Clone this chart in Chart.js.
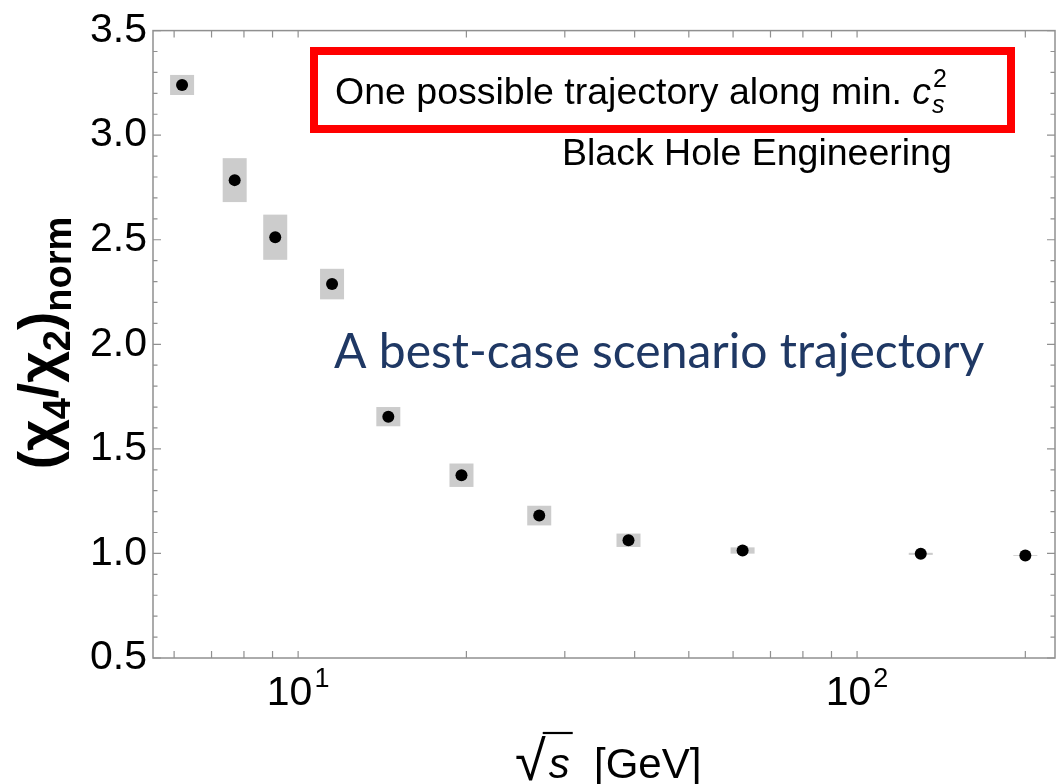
<!DOCTYPE html>
<html>
<head>
<meta charset="utf-8">
<script src="https://cdn.jsdelivr.net/npm/chart.js@4.4.0/dist/chart.umd.min.js"></script>
<style>
  html, body { margin: 0; padding: 0; background: #fff; }
</style>
</head>
<body>
<canvas id="myChart" width="1063" height="784"></canvas>
<script>

// collision energies sqrt(s) [GeV]
var energies = [6.2, 7.7, 9.1, 11.5, 14.5, 19.6, 27, 39, 62.4, 130, 200];
// (chi4/chi2)_norm and its uncertainty (grey boxes)
var ratios = [3.24, 2.785, 2.512, 2.288, 1.654, 1.374, 1.181, 1.063, 1.014, 0.998, 0.990];
var ratioErrors = [0.048, 0.105, 0.108, 0.073, 0.046, 0.056, 0.047, 0.032, 0.015, 0.005, 0.002];

var yTicks = [0.5, 1.0, 1.5, 2.0, 2.5, 3.0, 3.5];
var xTicks = [10, 100];
var xTickExponents = ["1", "2"];
var xMinorTicks = [6, 7, 8, 9, 20, 30, 40, 50, 60, 70, 80, 90, 200];

var FONT = "'Liberation Sans', Arial, Helvetica, sans-serif";


// grey uncertainty boxes behind the points
var errorBoxes = {
    id: 'errorBoxes',
    beforeDatasetsDraw: function (chart) {
        var ctx = chart.ctx, xs = chart.scales.x, ys = chart.scales.y;
        ctx.save();
        ctx.fillStyle = '#cccccc';
        for (var i = 0; i < energies.length; i++) {
            var px = xs.getPixelForValue(energies[i]);
            var top = ys.getPixelForValue(ratios[i] + ratioErrors[i]);
            var bot = ys.getPixelForValue(ratios[i] - ratioErrors[i]);
            ctx.fillRect(px - 12, top, 24, bot - top);
        }
        ctx.restore();
    }
};

// draws text pieces in a row: [text, font, dy, extra advance]
function drawPieces(ctx, pieces, x, y, align) {
    var total = 0, i;
    for (i = 0; i < pieces.length; i++) {
        ctx.font = pieces[i][1];
        pieces[i].w = ctx.measureText(pieces[i][0]).width;
        total += pieces[i].w + (pieces[i][3] || 0);
    }
    var cx = align === 'center' ? x - total / 2 : x;
    for (i = 0; i < pieces.length; i++) {
        ctx.font = pieces[i][1];
        ctx.fillText(pieces[i][0], cx, y + pieces[i][2]);
        cx += pieces[i].w + (pieces[i][3] || 0);
    }
    return total;
}

// frame with inward ticks on all four sides, plus 10^n labels
var frameTicks = {
    id: 'frameTicks',
    afterDatasetsDraw: function (chart) {
        var ctx = chart.ctx, a = chart.chartArea;
        var xs = chart.scales.x, ys = chart.scales.y;
        ctx.save();
        ctx.strokeStyle = '#909090';
        ctx.lineWidth = 1.5;
        ctx.strokeRect(a.left, a.top, a.right - a.left, a.bottom - a.top);
        ctx.lineWidth = 1.2;
        ctx.beginPath();
        // y ticks every 0.1
        for (var k = 5; k <= 35; k++) {
            var py = ys.getPixelForValue(k / 10);
            var len = (k % 5 === 0) ? 8 : 4.5;
            ctx.moveTo(a.left, py); ctx.lineTo(a.left + len, py);
            ctx.moveTo(a.right, py); ctx.lineTo(a.right - len, py);
        }
        var all = xMinorTicks.concat(xTicks);
        for (var j = 0; j < all.length; j++) {
            var px = xs.getPixelForValue(all[j]);
            ctx.moveTo(px, a.bottom); ctx.lineTo(px, a.bottom - 7);
            ctx.moveTo(px, a.top); ctx.lineTo(px, a.top + 7);
        }
        ctx.stroke();

        // x tick labels with superscript exponent
        ctx.fillStyle = '#000';
        ctx.textAlign = 'left';
        ctx.textBaseline = 'alphabetic';
        for (var t = 0; t < xTicks.length; t++) {
            drawPieces(ctx, [
                ["10", "41px " + FONT, 0, 2],
                [xTickExponents[t], "27px " + FONT, -18]
            ], xs.getPixelForValue(xTicks[t]), a.bottom + 47, 'center');
        }
        ctx.restore();
    }
};

var annotations = {
    id: 'annotations',
    afterDraw: function (chart) {
        var ctx = chart.ctx;
        ctx.save();
        ctx.textAlign = 'left';
        ctx.textBaseline = 'alphabetic';

        // red box
        ctx.strokeStyle = '#ff0000';
        ctx.lineWidth = 8;
        ctx.strokeRect(314, 51, 697, 78);

        ctx.fillStyle = '#000';
        var w = drawPieces(ctx, [
            ["One possible trajectory along min. ", "37.5px " + FONT, 0],
            ["c", "italic 37.5px " + FONT, 0, 2]
        ], 335, 104, 'left');
        ctx.font = "25px " + FONT;
        ctx.fillText("2", 335 + w, 87);
        ctx.font = "italic 25px " + FONT;
        ctx.fillText("s", 335 + w - 1, 113);

        ctx.font = "37.5px " + FONT;
        ctx.fillText("Black Hole Engineering", 562, 165);

        // middle caption
        ctx.fillStyle = '#1f3864';
        ctx.font = "48px Lato, 'Open Sans', sans-serif";
        ctx.fillText("A best-case scenario trajectory", 334, 368);

        // y title
        ctx.fillStyle = '#000';
        ctx.save();
        ctx.translate(57, 343);
        ctx.rotate(-Math.PI / 2);
        var big = "bold 55px " + FONT, small = "bold 38px " + FONT;
        drawPieces(ctx, [
            ["(", big, 0], ["\u03C7", big, 0], ["4", small, 13],
            ["/", big, 0], ["\u03C7", big, 0], ["2", small, 13],
            [")", big, 0], ["norm", small, 14]
        ], 0, 0, 'center');
        ctx.restore();

        // x title: sqrt(s) [GeV]
        var xt = 515, base = 778;
        ctx.font = "56px " + FONT;
        ctx.fillText("\u221A", xt, base + 2);
        var rw = ctx.measureText("\u221A").width;
        ctx.font = "italic 42px " + FONT;
        ctx.fillText("s", xt + rw + 3, base);
        var sw = ctx.measureText("s").width;
        ctx.strokeStyle = '#000';
        ctx.lineWidth = 2.2;
        ctx.beginPath();
        ctx.moveTo(xt + rw - 3, 733);
        ctx.lineTo(xt + rw + sw + 6, 733);
        ctx.stroke();
        ctx.font = "42px " + FONT;
        ctx.fillText("[GeV]", 594, base);

        ctx.restore();
    }
};

var points = energies.map(function (e, i) { return { x: e, y: ratios[i] }; });

var ctx = document.getElementById("myChart").getContext("2d");

var myChart = new Chart(ctx, {
    type: "scatter",
    data: {
        datasets: [
            {
                data: points,
                backgroundColor: "#000",
                borderWidth: 0,
                pointRadius: 6,
                pointHoverRadius: 6
            }
        ]
    },
    options: {
        responsive: false,
        animation: false,
        layout: { padding: { top: 24, right: 8, left: 0, bottom: 0 } },
        plugins: {
            legend: { display: false },
            tooltip: { enabled: false }
        },
        scales: {
            x: {
                type: "logarithmic",
                min: 5.5,
                max: 226,
                grid: { display: false, drawTicks: false },
                border: { display: false },
                afterBuildTicks: function (axis) {
                    axis.ticks = xTicks.map(function (v) { return { value: v }; });
                },
                afterFit: function (scale) { scale.height = 126; },
                ticks: { display: false }
            },
            y: {
                min: 0.5,
                max: 3.5,
                grid: { display: false, drawTicks: false },
                border: { display: false },
                afterBuildTicks: function (axis) {
                    axis.ticks = yTicks.map(function (v) { return { value: v }; });
                },
                afterFit: function (scale) { scale.width = 153; },
                ticks: {
                    padding: 6,
                    color: "#000",
                    font: { family: FONT, size: 41 },
                    callback: function (value) { return Number(value).toFixed(1); }
                }
            }
        }
    },
    plugins: [errorBoxes, frameTicks, annotations]
});

</script>
</body>
</html>
